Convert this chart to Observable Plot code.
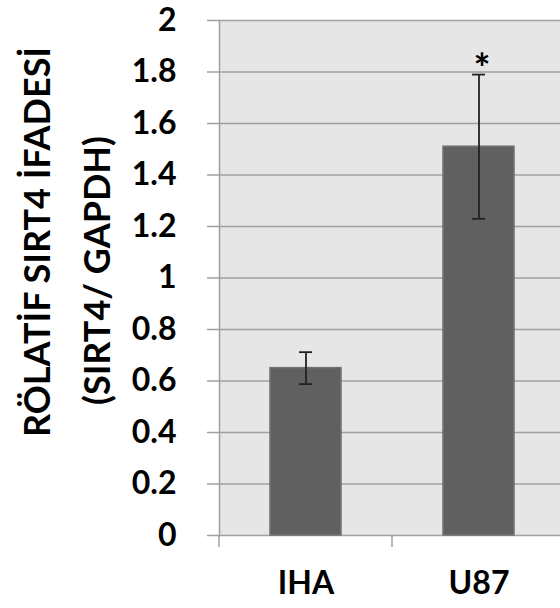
<!DOCTYPE html>
<html><head><meta charset="utf-8">
<script src="https://cdn.jsdelivr.net/npm/d3@7"></script>
<script src="https://cdn.jsdelivr.net/npm/@observablehq/plot@0.6"></script>
<style>html,body{margin:0;padding:0;background:#fff;}</style>
</head><body><div id="chart"></div>
<script>
const categories = ["IHA", "U87"];
const values = [0.65, 1.51];
const errors = [0.062, 0.28];
const significance = ["", "*"];
const yTicks = [0, 0.2, 0.4, 0.6, 0.8, 1, 1.2, 1.4, 1.6, 1.8, 2];
const yTickLabels = ["0", "0.2", "0.4", "0.6", "0.8", "1", "1.2", "1.4", "1.6", "1.8", "2"];
const yTitle = ["RÖLATİF SIRT4 İFADESİ", "(SIRT4/ GAPDH)"];

const data = categories.map((c, i) => ({
  cat: c, value: values[i], lo: values[i] - errors[i], hi: values[i] + errors[i], sig: significance[i]
}));

const font = "Lato, 'Open Sans', sans-serif";
const chart = Plot.plot({
  width: 560, height: 608,
  marginLeft: 219, marginRight: 0, marginTop: 20, marginBottom: 73,
  style: {fontFamily: font, background: "#fff", color: "#000"},
  x: {type: "band", domain: categories, range: [219, 565], paddingInner: 0.59, paddingOuter: 0.295, label: null},
  y: {domain: [0, 2], label: null},
  marks: [
    Plot.frame({fill: "#e6e6e6", stroke: null}),
    Plot.gridY(yTicks, {stroke: "#a0a0a0", strokeOpacity: 1, strokeWidth: 1.5}),
    Plot.frame({anchor: "left", stroke: "#a0a0a0", strokeWidth: 1.5}),
    Plot.axisY(yTicks, {tickSize: 12, stroke: "#a0a0a0", strokeWidth: 1.5, tickFormat: () => ""}),
    Plot.axisY(yTicks, {tickSize: 0, tickPadding: 43, fontSize: 32, fontWeight: "bold", fill: "#000",
      tickFormat: d => yTickLabels[yTicks.indexOf(d)]}),
    Plot.axisX({tickSize: 0, tickPadding: 36, fontSize: 32, fontWeight: "bold", fill: "#000"}),
    Plot.barY(data, {x: "cat", y: "value", fill: "#606060", stroke: "#727272", strokeWidth: 1.5}),
    Plot.ruleX(data, {x: "cat", y1: "lo", y2: "hi", stroke: "#222", strokeWidth: 1.8}),
    Plot.tickY(data, {x: "cat", y: "hi", stroke: "#222", strokeWidth: 1.8, insetLeft: 29, insetRight: 29}),
    Plot.tickY(data, {x: "cat", y: "lo", stroke: "#222", strokeWidth: 1.8, insetLeft: 29, insetRight: 29}),
    Plot.text(data.filter(d => d.sig), {x: "cat", y: "hi", text: "sig", fontSize: 40, fontWeight: "bold",
      lineAnchor: "bottom", dy: 8, dx: 3, fill: "#000"}),
    Plot.text([yTitle[0]], {text: d => d, frameAnchor: "left", textAnchor: "middle", rotate: -90, dx: -181, dy: -36,
      fontSize: 36, fontWeight: "bold", lineAnchor: "middle", fill: "#000"}),
    Plot.text([yTitle[1]], {text: d => d, frameAnchor: "left", textAnchor: "middle", rotate: -90, dx: -121, dy: -7.5,
      fontSize: 36, fontWeight: "bold", lineAnchor: "middle", fill: "#000"})
  ]
});

// category boundary ticks below the baseline, placed from the band scale
const sx = chart.scale("x"), sy = chart.scale("y");
const y0 = sy.apply(0);
const half = (sx.step - sx.bandwidth) / 2;
const bounds = categories.map(c => sx.apply(c) - half);
bounds.push(sx.apply(categories[categories.length - 1]) + sx.bandwidth + half);
d3.select(chart).append("g")
  .selectAll("line").data(bounds).join("line")
  .attr("x1", d => d).attr("x2", d => d)
  .attr("y1", y0).attr("y2", y0 + 12)
  .attr("stroke", "#a0a0a0").attr("stroke-width", 1.5);

document.getElementById("chart").appendChild(chart);
</script>
</body></html>
